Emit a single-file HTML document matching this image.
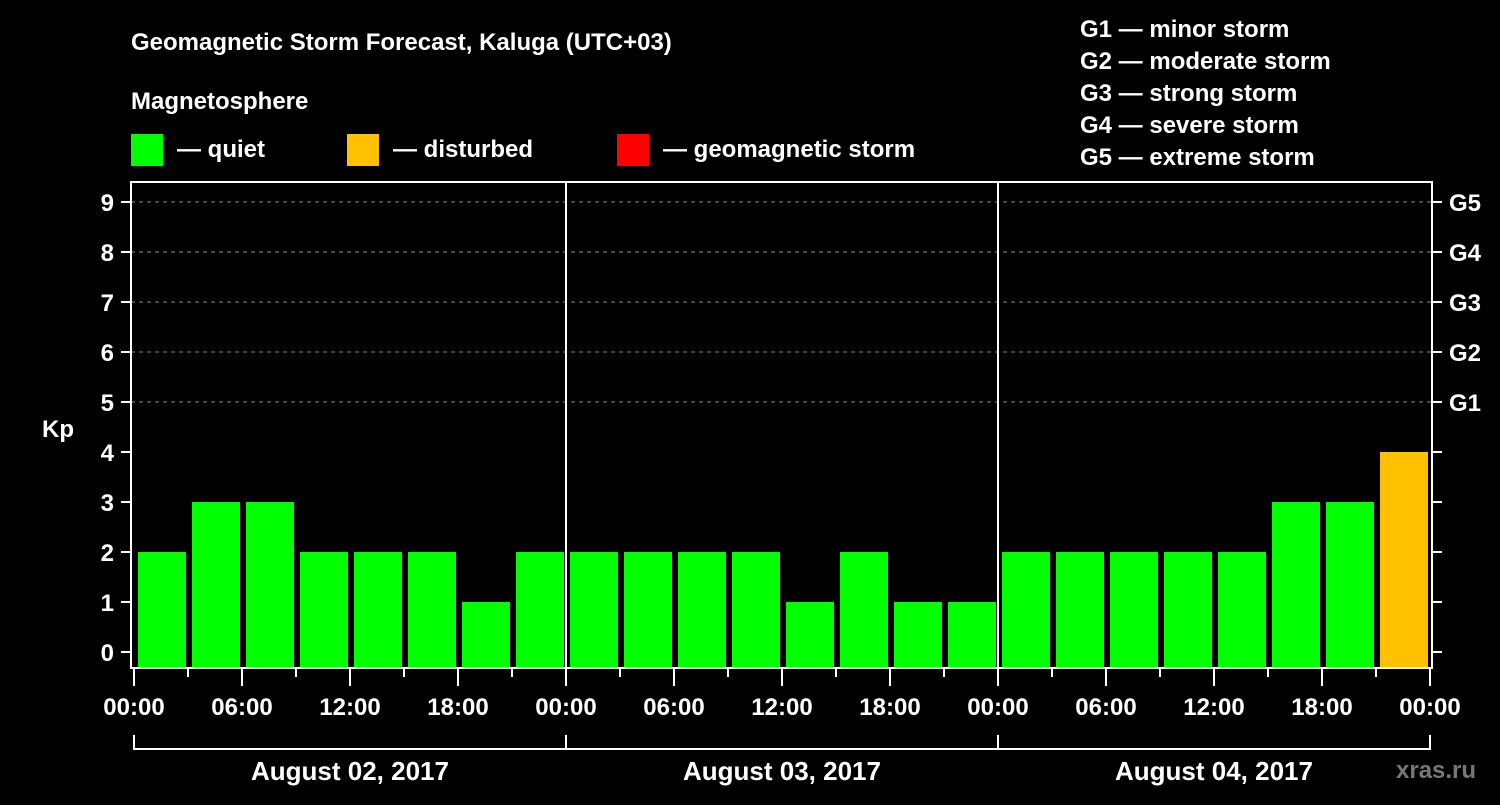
<!DOCTYPE html>
<html><head><meta charset="utf-8"><style>
body{margin:0;background:#000;width:1500px;height:800px;overflow:hidden}
svg text{font-family:"Liberation Sans",Arial,sans-serif;font-weight:bold;fill:#fff}
</style></head><body>
<svg id="c" width="1500" height="800" xmlns="http://www.w3.org/2000/svg">
<rect width="1500" height="800" fill="#000"/>
<text x="131" y="50" font-size="24">Geomagnetic Storm Forecast, Kaluga (UTC+03)</text>
<text x="131" y="109" font-size="24">Magnetosphere</text>
<g><rect x="131" y="134" width="32" height="32" fill="#00ff00"/><text x="177" y="157" font-size="24">— quiet</text></g>
<g><rect x="347" y="134" width="32" height="32" fill="#ffc000"/><text x="393" y="157" font-size="24">— disturbed</text></g>
<g><rect x="617" y="134" width="32" height="32" fill="#ff0000"/><text x="663" y="157" font-size="24">— geomagnetic storm</text></g>
<g font-size="24">
<text x="1080" y="37">G1 — minor storm</text>
<text x="1080" y="69">G2 — moderate storm</text>
<text x="1080" y="101">G3 — strong storm</text>
<text x="1080" y="133">G4 — severe storm</text>
<text x="1080" y="165">G5 — extreme storm</text>
</g>
<text x="42" y="437" font-size="24">Kp</text>
<text x="1396" y="778" font-size="24" fill="#777" style="fill:#777">xras.ru</text>
<g id="grid"></g><g id="bars"></g><g id="axes"></g>
</svg>
<script>
const dayLabels=["August 02, 2017","August 03, 2017","August 04, 2017"];
const kpValues=[2,3,3,2,2,2,1,2, 2,2,2,2,1,2,1,1, 2,2,2,2,2,3,3,4];
const yTicks=[0,1,2,3,4,5,6,7,8,9];
const gLabels=["G1","G2","G3","G4","G5"];
const hourLabels=["00:00","06:00","12:00","18:00"];
const NS="http://www.w3.org/2000/svg";
const X0=134,X1=1430,Y0=652,PU=50,BOT=667;
const xs=h=>X0+(X1-X0)*h/72;
const ys=v=>Y0-v*PU;
function mk(t,a,p){const e=document.createElementNS(NS,t);for(const k in a)e.setAttribute(k,a[k]);p.appendChild(e);return e;}
const grid=document.getElementById('grid'),bars=document.getElementById('bars'),axes=document.getElementById('axes');
yTicks.forEach(v=>{
 if(v>=5){const l=mk('line',{x1:131,x2:1432,y1:ys(v),y2:ys(v),stroke:'#888','stroke-dasharray':'4,4','stroke-width':1},grid);
 
 }
 mk('line',{x1:121,x2:131,y1:ys(v),y2:ys(v),stroke:'#fff','stroke-width':2},axes);
 mk('line',{x1:1432,x2:1442,y1:ys(v),y2:ys(v),stroke:'#fff','stroke-width':2},axes);
 const t=mk('text',{x:114,y:ys(v)+9,'font-size':24,'text-anchor':'end'},axes);t.textContent=v;
 
 
});
gLabels.forEach((g,i)=>{const t=mk('text',{x:1449,y:ys(5+i)+9,'font-size':24},axes);t.textContent=g;
 
 });
kpValues.forEach((v,i)=>{
 const c=v>=5?'#ff0000':(v>=4?'#ffc000':'#00ff00');
 const x=xs(i*3)+4,w=xs(i*3+3)-xs(i*3)-6;
 const r=mk('rect',{x:x,y:ys(v),width:w,height:BOT-ys(v),fill:c},bars);
 
 
});
const f=mk('rect',{x:131,y:182,width:1301,height:486,fill:'none',stroke:'#fff','stroke-width':2},axes);


for(let d=1;d<3;d++)mk('line',{x1:xs(d*24),x2:xs(d*24),y1:182,y2:668,stroke:'#fff','stroke-width':2},axes);
for(let h=0;h<=72;h+=3){
 const major=h%6===0;
 mk('line',{x1:xs(h),x2:xs(h),y1:668,y2:major?686:677,stroke:'#fff','stroke-width':2},axes);
 if(major){const t=mk('text',{x:xs(h),y:715,'font-size':24,'text-anchor':'middle'},axes);
 t.textContent=h===72?"00:00":hourLabels[(h%24)/6];
 
 }
}
mk('path',{d:`M${xs(0)} 735 V749 H${xs(72)} V735`,fill:'none',stroke:'#fff','stroke-width':2},axes);
dayLabels.forEach((d,i)=>{
 mk('line',{x1:xs(i*24),x2:xs(i*24),y1:735,y2:749,stroke:'#fff','stroke-width':2},axes);
 const t=mk('text',{x:xs(i*24+12),y:780,'font-size':26,'text-anchor':'middle'},axes);t.textContent=d;
 
 
});
</script>
</body></html>
